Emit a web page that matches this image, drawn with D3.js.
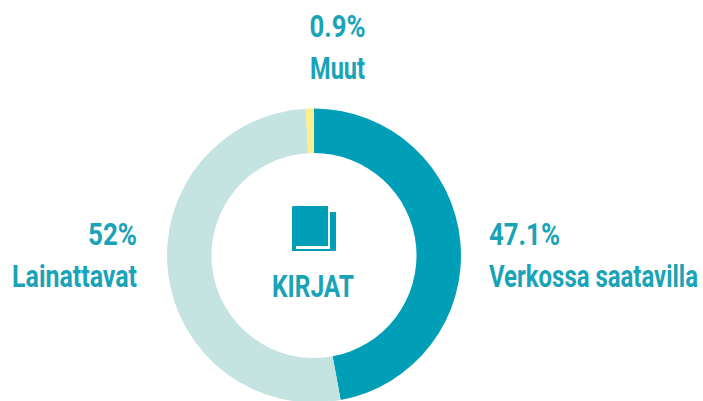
<!DOCTYPE html>
<html>
<head>
<meta charset="utf-8">
<script src="https://cdn.jsdelivr.net/npm/d3@7"></script>
<style>
  html, body { margin: 0; padding: 0; background: #fff; overflow: hidden; }
  text { font-family: "Roboto", sans-serif; font-weight: 700; fill: #19a3b8; }
</style>
</head>
<body>
<svg id="chart" style="display:block"></svg>
<script>
// Shares, clockwise from twelve o'clock
const categories = ["Verkossa saatavilla", "Lainattavat", "Muut"];
const shares = [47.1, 52, 0.9];
const shareLabels = ["47.1%", "52%", "0.9%"];
const sliceColors = ["#009fb7", "#c5e4e1", "#fdee8e"];
const centerTitle = "KIRJAT";

const width = 703;
const height = 401;
const cx = 314;
const cy = 255.5;
const outerRadius = 147;
const innerRadius = 102.5;
const fontSize = 31;

const svg = d3.select("#chart").attr("width", width).attr("height", height);

const color = d3.scaleOrdinal().domain(categories).range(sliceColors);

const pie = d3.pie().value((d, i) => shares[i]).sort(null);
const arc = d3.arc().innerRadius(innerRadius).outerRadius(outerRadius);

svg.append("g")
  .attr("transform", `translate(${cx},${cy})`)
  .selectAll("path")
  .data(pie(categories))
  .join("path")
  .attr("d", arc)
  .attr("fill", d => color(d.data));

// Roboto is wider than the original condensed face, so squeeze each text to its measured width
function squeezed(sel, x, y, anchor, targetWidth, str) {
  const t = sel.append("text")
    .attr("text-anchor", anchor)
    .attr("font-size", fontSize)
    .text(str);
  const sx = targetWidth / t.node().getComputedTextLength();
  t.attr("transform", `translate(${x},${y}) scale(${sx},1)`);
}

// label positions by hand, they don't follow the arcs in the original
const labelPos = [
  { x: 489, y: 245, anchor: "start", shareW: 71, nameW: 209 },
  { x: 137, y: 245, anchor: "end", shareW: 49, nameW: 125 },
  { x: 337.5, y: 37, anchor: "middle", shareW: 56, nameW: 55 }
];

const labels = svg.append("g");
categories.forEach((name, i) => {
  const p = labelPos[i];
  squeezed(labels, p.x, p.y, p.anchor, p.shareW, shareLabels[i]);
  squeezed(labels, p.x, p.y + 42, p.anchor, p.nameW, name);
});

// book icon
const icon = svg.append("g").attr("transform", "translate(292,206)");
icon.append("path")
  .attr("d", "M38,6 H44 V45 H0 V43 H38 Z")
  .attr("fill", "#009fb7");
icon.append("path")
  .attr("d", "M1,0 H36 V40 H4 V45 H0 V1 Z")
  .attr("fill", "#009fb7");

squeezed(svg, 313, 297, "middle", 82, centerTitle);
</script>
</body>
</html>
